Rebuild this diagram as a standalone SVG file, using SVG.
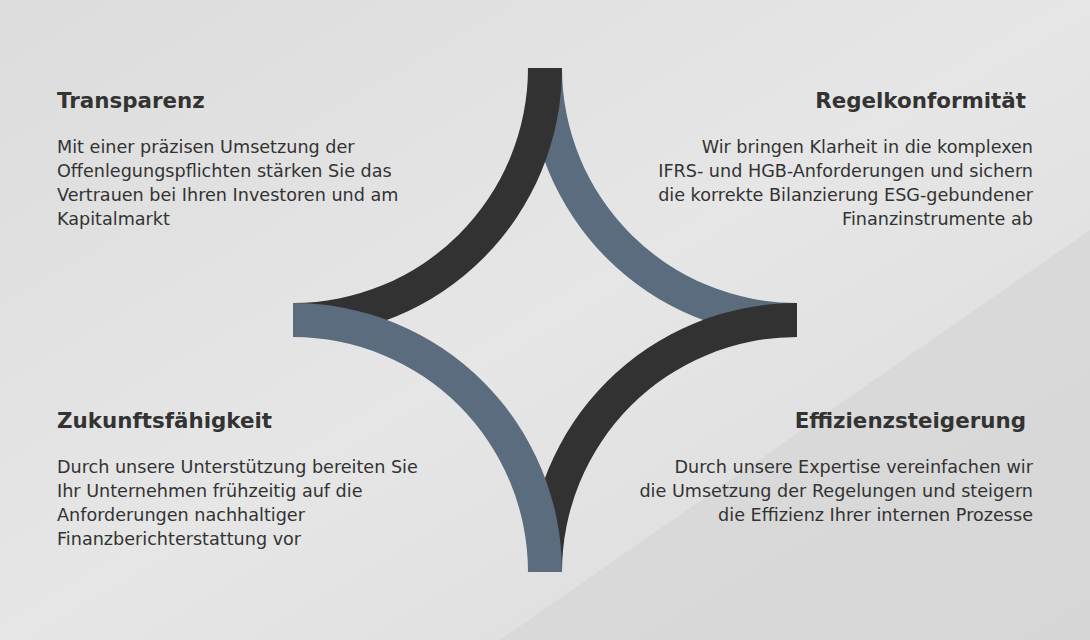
<svg xmlns="http://www.w3.org/2000/svg" width="1090" height="640" viewBox="0 0 1090 640">
<defs>
<linearGradient id="bg" x1="0" y1="0" x2="1" y2="1">
<stop offset="0" stop-color="#dcdcdc"/><stop offset="0.5" stop-color="#e6e6e6"/><stop offset="1" stop-color="#dadada"/>
</linearGradient>
<style>
.t{font-family:"DejaVu Sans",Arial,sans-serif;font-weight:bold;font-size:21.4px;fill:#333}
.b{font-family:"DejaVu Sans",Arial,sans-serif;font-size:17.6px;fill:#333}
.r{text-anchor:end}
.dark{fill:#323232}.slate{fill:#5a6c7e}
</style>
</defs>
<rect width="1090" height="640" fill="url(#bg)"/>
<polygon points="1090,230 1090,640 500,640" fill="#d4d4d4" opacity="0.6"/>
<g id="star">
<path class="slate" d="M528,68 A269,269 0 0 0 797,337 L797,303 A235,235 0 0 1 562,68 Z"/>
<path class="dark" d="M562,68 A269,269 0 0 1 293,337 L293,303 A235,235 0 0 0 528,68 Z"/>
<path class="dark" d="M528,572 A269,269 0 0 1 797,303 L797,337 A235,235 0 0 0 562,572 Z"/>
<path class="slate" d="M562,572 A269,269 0 0 0 293,303 L293,337 A235,235 0 0 1 528,572 Z"/>
</g>
<g id="transparenz">
<text class="t" x="57" y="108">Transparenz</text>
<text class="b" x="57" y="153">Mit einer präzisen Umsetzung der</text>
<text class="b" x="57" y="177">Offenlegungspflichten stärken Sie das</text>
<text class="b" x="57" y="201">Vertrauen bei Ihren Investoren und am</text>
<text class="b" x="57" y="225">Kapitalmarkt</text>
</g>
<g id="regelkonformitaet">
<text class="t r" x="1026" y="108">Regelkonformität</text>
<text class="b r" x="1033" y="153">Wir bringen Klarheit in die komplexen</text>
<text class="b r" x="1033" y="177">IFRS- und HGB-Anforderungen und sichern</text>
<text class="b r" x="1033" y="201">die korrekte Bilanzierung ESG-gebundener</text>
<text class="b r" x="1033" y="225">Finanzinstrumente ab</text>
</g>
<g id="zukunft">
<text class="t" x="57" y="428">Zukunftsfähigkeit</text>
<text class="b" x="57" y="473">Durch unsere Unterstützung bereiten Sie</text>
<text class="b" x="57" y="497">Ihr Unternehmen frühzeitig auf die</text>
<text class="b" x="57" y="521">Anforderungen nachhaltiger</text>
<text class="b" x="57" y="545">Finanzberichterstattung vor</text>
</g>
<g id="effizienz">
<text class="t r" x="1026" y="428">Effizienzsteigerung</text>
<text class="b r" x="1033" y="473">Durch unsere Expertise vereinfachen wir</text>
<text class="b r" x="1033" y="497">die Umsetzung der Regelungen und steigern</text>
<text class="b r" x="1033" y="521">die Effizienz Ihrer internen Prozesse</text>
</g>
<g id="connectors"/>
</svg>
